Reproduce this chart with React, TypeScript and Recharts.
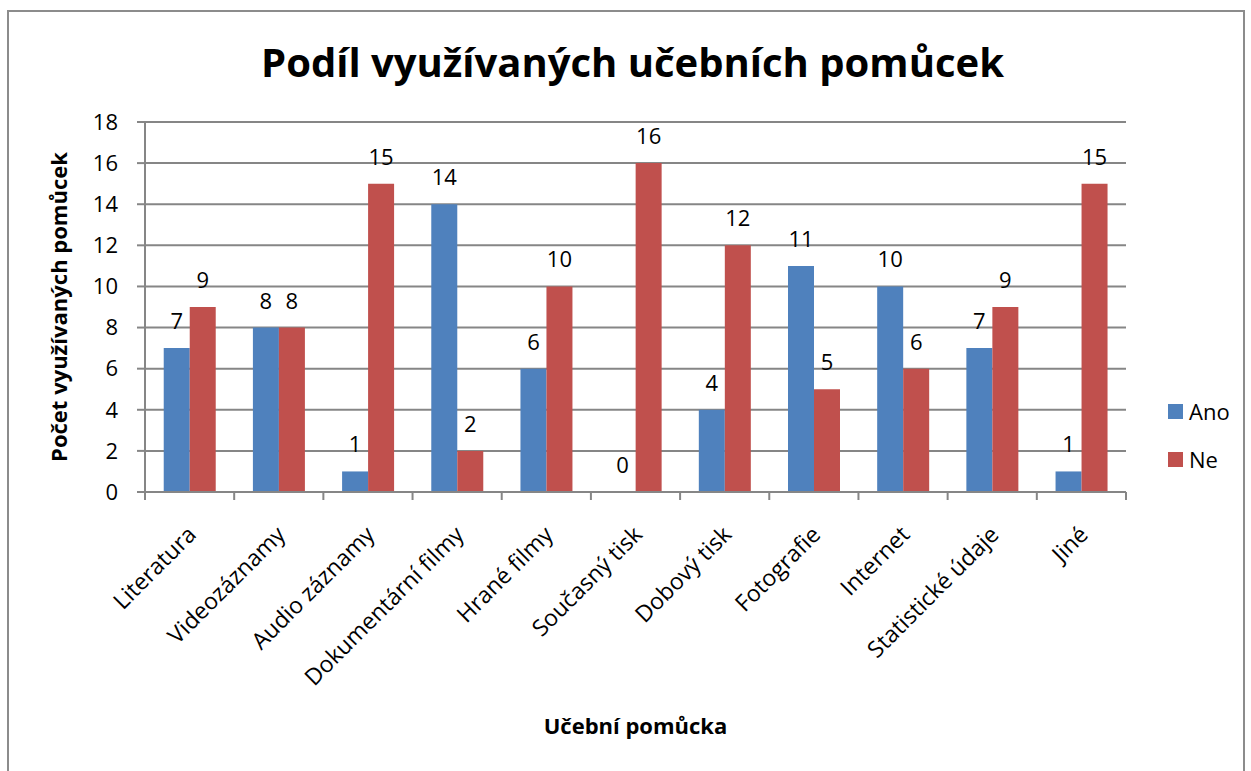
import React from "react";
import {
  BarChart,
  Bar,
  XAxis,
  YAxis,
  CartesianGrid,
  Legend,
  LabelList,
  Label,
} from "recharts";

const categories = [
  "Literatura",
  "Videozáznamy",
  "Audio záznamy",
  "Dokumentární filmy",
  "Hrané filmy",
  "Současný tisk",
  "Dobový tisk",
  "Fotografie",
  "Internet",
  "Statistické údaje",
  "Jiné",
];
const ano = [7, 8, 1, 14, 6, 0, 4, 11, 10, 7, 1];
const ne = [9, 8, 15, 2, 10, 16, 12, 5, 6, 9, 15];
const yTicks = [0, 2, 4, 6, 8, 10, 12, 14, 16, 18];

const data = categories.map((name, i) => ({ name, Ano: ano[i], Ne: ne[i] }));

const FONT = "'Open Sans', sans-serif";
const GRID = "#868686";
const BLUE = "#4F81BD";
const RED = "#C0504D";

// keep zero bars in the chart (tiny height) so their "0" label is still drawn
const zeroSize = (value: any) => (value === 0 ? 0.5 : 0);

function CategoryTick(props: any) {
  const { x, y, payload, index, visibleTicksCount } = props;
  const half = payload.offset || 0;
  const tx = x + 8;
  const ty = y + 44;
  return (
    <g>
      <line x1={x - half} x2={x - half} y1={y} y2={y + 8} stroke={GRID} strokeWidth={2} />
      {index === visibleTicksCount - 1 && (
        <line x1={x + half} x2={x + half} y1={y} y2={y + 8} stroke={GRID} strokeWidth={2} />
      )}
      <text
        x={tx}
        y={ty}
        textAnchor="end"
        fontSize={23}
        fontFamily={FONT}
        fill="#000"
        transform={`rotate(-45, ${tx}, ${ty})`}
      >
        {payload.value}
      </text>
    </g>
  );
}

function ValueLabel(props: any) {
  const { x, y, width, value } = props;
  return (
    <text
      x={x + width / 2}
      y={y - 19}
      textAnchor="middle"
      fontSize={22}
      fontFamily={FONT}
      fill="#000"
    >
      {value}
    </text>
  );
}

function LegendBox() {
  const items = [
    { name: "Ano", color: BLUE },
    { name: "Ne", color: RED },
  ];
  return (
    <div style={{ fontFamily: FONT, fontSize: 22 }}>
      {items.map((it) => (
        <div key={it.name} style={{ display: "flex", alignItems: "center", height: 48 }}>
          <span style={{ width: 15, height: 15, background: it.color, marginRight: 6 }} />
          <span>{it.name}</span>
        </div>
      ))}
    </div>
  );
}

export default function App() {
  return (
    <div style={{ position: "absolute", left: 0, top: 0, width: 1251, height: 771, background: "#fff", overflow: "hidden" }}>
      <div
        style={{
          position: "absolute",
          left: 7,
          top: 10,
          width: 1238,
          height: 780,
          border: "2px solid #8c8c8c",
          boxSizing: "border-box",
        }}
      />
      <div
        style={{
          position: "absolute",
          left: 0,
          width: 1265,
          top: 34,
          textAlign: "center",
          fontFamily: FONT,
          fontWeight: 700,
          fontSize: 40,
          color: "#000",
        }}
      >
        Podíl využívaných učebních pomůcek
      </div>
      <BarChart
        width={1251}
        height={771}
        data={data}
        margin={{ top: 122, right: 125, left: 85, bottom: 79 }}
        barCategoryGap="21%"
        barGap={0}
      >
        <CartesianGrid vertical={false} stroke={GRID} strokeWidth={2} />
        <XAxis
          dataKey="name"
          height={200}
          interval={0}
          tickLine={false}
          tickSize={0}
          tickMargin={0}
          axisLine={{ stroke: GRID, strokeWidth: 2 }}
          tick={<CategoryTick />}
        >
          <Label
            position="bottom"
            offset={26}
            value="Učební pomůcka"
            fontFamily={FONT}
            fontWeight={700}
            fontSize={22}
            fill="#000"
          />
        </XAxis>
        <YAxis
          width={60}
          domain={[0, 18]}
          ticks={yTicks}
          interval={0}
          tickSize={8}
          tickMargin={19}
          axisLine={{ stroke: GRID, strokeWidth: 2 }}
          tickLine={{ stroke: GRID, strokeWidth: 2 }}
          tick={{ fill: "#000", fontSize: 22, fontFamily: FONT }}
        >
          <Label
            content={({ viewBox }: any) => {
              const cx = 58;
              const cy = viewBox.y + viewBox.height / 2;
              return (
                <text
                  x={cx}
                  y={cy}
                  textAnchor="middle"
                  dominantBaseline="central"
                  fontFamily={FONT}
                  fontWeight={700}
                  fontSize={22}
                  fill="#000"
                  transform={`rotate(-90, ${cx}, ${cy})`}
                >
                  Počet využívaných pomůcek
                </text>
              );
            }}
          />
        </YAxis>
        <Legend
          verticalAlign="middle"
          align="center"
          layout="horizontal"
          content={<LegendBox />}
          wrapperStyle={{ left: 1168, top: 387, width: 80 }}
        />
        <Bar dataKey="Ano" fill={BLUE} minPointSize={zeroSize} isAnimationActive={false}>
          <LabelList dataKey="Ano" content={<ValueLabel />} />
        </Bar>
        <Bar dataKey="Ne" fill={RED} minPointSize={zeroSize} isAnimationActive={false}>
          <LabelList dataKey="Ne" content={<ValueLabel />} />
        </Bar>
      </BarChart>
    </div>
  );
}
